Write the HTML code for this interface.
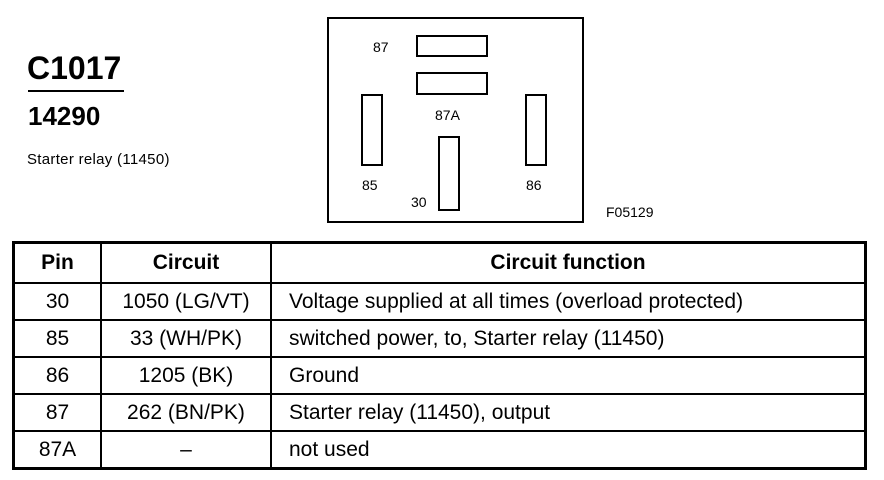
<!DOCTYPE html>
<html><head><style>
body{margin:0;width:884px;height:480px;background:#fff;font-family:"Liberation Sans",Arial,sans-serif;position:relative;overflow:hidden;color:#000}
.a{position:absolute;white-space:nowrap}
.b{position:absolute;border:2px solid #000;box-sizing:border-box}
table{position:absolute;left:12px;top:241px;width:855px;border-collapse:collapse;border:3px solid #000}
td{border:2px solid #000;font-size:21px;height:35px;padding:0;text-align:center}
td.l{text-align:left;padding-left:17px}
tr.h td{font-weight:bold;height:38px}
</style></head><body>
<div class="a" style="left:27px;top:50px;font-size:32px;font-weight:bold">C1017</div>
<div style="position:absolute;left:28px;top:90px;width:96px;height:2px;background:#000"></div>
<div class="a" style="left:28px;top:101px;font-size:26px;font-weight:bold">14290</div>
<div class="a" style="left:27px;top:151px;font-size:15px;letter-spacing:0.3px">Starter relay (11450)</div>

<div class="b" style="left:327px;top:17px;width:257px;height:206px"></div>
<div class="b" style="left:416px;top:35px;width:72px;height:22px"></div>
<div class="b" style="left:416px;top:72px;width:72px;height:23px"></div>
<div class="b" style="left:361px;top:94px;width:22px;height:72px"></div>
<div class="b" style="left:525px;top:94px;width:22px;height:72px"></div>
<div class="b" style="left:438px;top:136px;width:22px;height:75px"></div>
<div class="a" style="left:373px;top:39px;font-size:14px">87</div>
<div class="a" style="left:435px;top:107px;font-size:14px">87A</div>
<div class="a" style="left:362px;top:177px;font-size:14px">85</div>
<div class="a" style="left:526px;top:177px;font-size:14px">86</div>
<div class="a" style="left:411px;top:194px;font-size:14px">30</div>
<div class="a" style="left:606px;top:204px;font-size:14px">F05129</div>

<table>
<tr class="h"><td style="width:85px">Pin</td><td style="width:168px">Circuit</td><td>Circuit function</td></tr>
<tr><td>30</td><td>1050 (LG/VT)</td><td class="l">Voltage supplied at all times (overload protected)</td></tr>
<tr><td>85</td><td>33 (WH/PK)</td><td class="l">switched power, to, Starter relay (11450)</td></tr>
<tr><td>86</td><td>1205 (BK)</td><td class="l">Ground</td></tr>
<tr><td>87</td><td>262 (BN/PK)</td><td class="l">Starter relay (11450), output</td></tr>
<tr><td>87A</td><td>–</td><td class="l">not used</td></tr>
</table>
</body></html>
